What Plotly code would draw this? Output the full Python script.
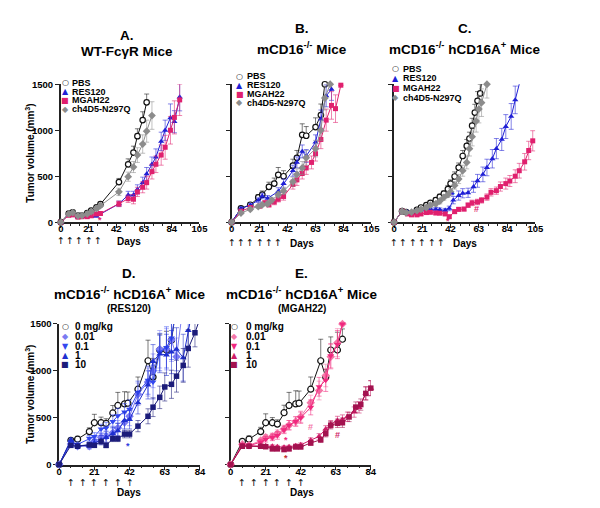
import plotly.graph_objects as go

W, H = 600, 508
FONT = "Liberation Sans, Arial, sans-serif"
SYMFONT = "DejaVu Sans, sans-serif"

# ---------------- Panel A : WT-FcgR mice ----------------
A_pbs_days = [0, 6, 9, 13, 16, 20, 23, 27, 30, 44, 51, 55, 58, 62, 65]
A_pbs_vals = [0, 93, 107, 71, 71, 100, 125, 161, 196, 436, 629, 757, 936, 1111, 1304]
A_pbs_err = [0, 10, 12, 10, 10, 15, 15, 20, 20, 40, 60, 70, 80, 90, 90]

A_res_days = [0, 6, 9, 13, 16, 20, 23, 27, 44, 51, 55, 58, 62, 65, 69, 72, 76, 79, 83, 86, 90]
A_res_vals = [0, 80, 95, 55, 60, 65, 60, 65, 200, 296, 296, 357, 430, 525, 629, 707, 879, 1000, 1136, 1093, 1361]
A_res_err = [0, 10, 10, 8, 8, 10, 8, 10, 30, 40, 40, 50, 60, 70, 80, 90, 100, 110, 150, 120, 150]

A_mg_days = [0, 6, 9, 13, 16, 20, 23, 27, 30, 44, 51, 55, 58, 62, 65, 69, 72, 76, 79, 83, 86, 90]
A_mg_vals = [0, 75, 80, 55, 60, 60, 70, 90, 95, 200, 255, 250, 330, 380, 430, 550, 630, 730, 815, 1000, 1140, 1330]
A_mg_err = [0, 10, 10, 8, 8, 10, 10, 15, 15, 30, 40, 50, 50, 60, 70, 80, 90, 110, 130, 150, 180, 170]

A_ch_days = [0, 6, 9, 13, 16, 20, 23, 27, 30, 44, 51, 55, 58, 62, 65, 69]
A_ch_vals = [0, 90, 105, 70, 72, 90, 115, 150, 180, 330, 495, 600, 730, 850, 990, 1160]
A_ch_err = [0, 10, 12, 10, 10, 12, 15, 20, 20, 40, 50, 60, 80, 100, 120, 150]

# ---------------- Panel B : mCD16-/- mice ----------------
B_pbs_days = [0, 7, 14, 20, 23, 28, 32, 35, 39, 46, 49, 53, 56, 63, 67, 70]
B_pbs_vals = [0, 150, 190, 270, 300, 385, 420, 515, 500, 615, 700, 950, 940, 1035, 1165, 1500]
B_pbs_err = [0, 15, 20, 30, 40, 50, 60, 80, 60, 70, 80, 120, 100, 100, 120, 0]

B_res_days = [0, 7, 14, 20, 23, 27, 35, 39, 46, 49, 53, 56, 63, 67, 71, 75]
B_res_vals = [0, 150, 185, 240, 285, 260, 335, 420, 560, 650, 770, 720, 870, 1120, 1375, 1445]
B_res_err = [0, 15, 20, 25, 30, 30, 40, 50, 60, 60, 70, 70, 80, 100, 120, 120]

B_mg_days = [0, 7, 14, 21, 25, 28, 32, 35, 39, 46, 49, 53, 56, 60, 63, 67, 71, 75, 78, 82]
B_mg_vals = [0, 120, 160, 175, 210, 190, 220, 250, 280, 410, 460, 530, 590, 650, 745, 900, 1110, 1270, 1235, 1490]
B_mg_err = [0, 15, 20, 20, 25, 25, 30, 30, 40, 50, 60, 60, 70, 70, 80, 100, 120, 150, 150, 0]

B_ch_days = [0, 7, 14, 20, 23, 27, 30, 35, 39, 46, 49, 53, 56, 63, 67, 70, 74]
B_ch_vals = [0, 100, 140, 170, 190, 200, 240, 300, 340, 440, 520, 590, 700, 800, 1000, 1350, 1500]
B_ch_err = [0, 10, 15, 20, 20, 25, 30, 35, 40, 50, 60, 70, 80, 90, 110, 130, 0]

# ---------------- Panel C : mCD16-/- hCD16A+ mice ----------------
C_pbs_days = [0, 6, 9, 13, 17, 20, 24, 27, 31, 34, 37, 40, 42, 45, 48, 51, 54, 56, 58, 60, 62, 64, 66]
C_pbs_vals = [0, 120, 110, 100, 135, 160, 185, 210, 240, 275, 310, 360, 420, 497, 594, 720, 830, 909, 1050, 1192, 1320, 1400, 1650]
C_pbs_err = [0, 15, 15, 15, 15, 20, 20, 25, 25, 30, 30, 40, 40, 50, 50, 60, 70, 70, 80, 90, 100, 100, 0]

C_res_days = [0, 6, 10, 13, 17, 20, 24, 27, 31, 34, 38, 41, 44, 48, 51, 55, 59, 62, 66, 69, 73, 76, 80, 83, 87, 90, 94]
C_res_vals = [0, 120, 110, 105, 125, 135, 140, 145, 140, 135, 130, 150, 240, 290, 315, 320, 385, 450, 520, 595, 690, 800, 900, 1040, 1150, 1330, 1560]
C_res_err = [0, 15, 15, 15, 15, 15, 15, 20, 20, 20, 20, 25, 40, 50, 50, 50, 60, 70, 80, 90, 100, 110, 120, 130, 140, 150, 0]

C_mg_days = [0, 6, 10, 13, 17, 20, 24, 27, 31, 34, 38, 41, 45, 48, 52, 55, 58, 62, 65, 69, 72, 76, 79, 83, 86, 90, 93, 97, 100, 103]
C_mg_vals = [0, 120, 90, 80, 80, 90, 105, 108, 100, 98, 90, 60, 115, 140, 143, 185, 210, 220, 238, 273, 325, 343, 388, 420, 448, 500, 560, 657, 780, 885]
C_mg_err = [0, 15, 15, 12, 12, 15, 15, 15, 15, 15, 15, 15, 20, 20, 20, 25, 30, 30, 30, 35, 40, 40, 50, 60, 60, 70, 80, 90, 100, 110]

C_ch_days = [0, 6, 9, 13, 17, 20, 24, 27, 31, 34, 37, 40, 42, 45, 48, 51, 54, 56, 58, 61, 63, 65, 69]
C_ch_vals = [0, 120, 105, 110, 125, 140, 160, 185, 200, 230, 270, 300, 330, 400, 470, 560, 650, 800, 930, 1100, 1230, 1300, 1500]
C_ch_err = [0, 15, 15, 15, 15, 20, 20, 20, 25, 30, 30, 30, 35, 40, 50, 60, 70, 80, 100, 120, 150, 150, 150]

# ---------------- Panel D : RES120 dose titration ----------------
D_0_days = [0, 7, 11, 18, 21, 25, 28, 32, 35, 39, 41, 47, 53, 56, 60, 64, 67, 70]
D_0_vals = [0, 258, 271, 352, 446, 446, 439, 550, 630, 647, 654, 804, 1107, 933, 1222, 1222, 1326, 1700]
D_0_err = [0, 20, 30, 40, 90, 60, 50, 80, 140, 130, 120, 130, 220, 200, 170, 200, 200, 0]

D_001_days = [0, 7, 11, 18, 21, 25, 28, 32, 35, 39, 42, 47, 53, 56, 60, 64, 67, 70, 74]
D_001_vals = [0, 220, 195, 195, 245, 290, 300, 340, 390, 450, 515, 750, 880, 1000, 1230, 1230, 1330, 1150, 1700]
D_001_err = [0, 20, 25, 30, 40, 50, 60, 70, 80, 90, 100, 120, 150, 180, 200, 220, 230, 200, 0]

D_01_days = [0, 7, 11, 18, 21, 25, 28, 32, 35, 39, 42, 47, 53, 56, 60, 64, 67, 70]
D_01_vals = [0, 235, 215, 280, 300, 380, 390, 460, 520, 560, 590, 770, 900, 880, 1200, 1250, 1350, 1700]
D_01_err = [0, 20, 25, 30, 40, 50, 60, 70, 80, 90, 100, 120, 150, 180, 200, 220, 230, 0]

D_1_days = [0, 7, 11, 18, 21, 25, 28, 32, 35, 39, 42, 47, 53, 56, 60, 64, 67, 70, 74, 77, 80]
D_1_vals = [0, 265, 200, 210, 230, 260, 290, 330, 360, 470, 480, 660, 850, 1100, 1180, 1170, 1200, 1230, 1140, 1430, 1700]
D_1_err = [0, 20, 25, 30, 40, 50, 60, 70, 80, 90, 100, 120, 150, 180, 200, 220, 230, 230, 250, 200, 0]

D_10_days = [0, 7, 11, 18, 21, 25, 28, 32, 35, 39, 42, 47, 53, 56, 60, 63, 67, 70, 74, 77, 81, 84]
D_10_vals = [0, 205, 195, 210, 205, 245, 205, 275, 275, 325, 325, 410, 515, 612, 717, 828, 856, 943, 1058, 1239, 1406, 1560]
D_10_err = [0, 15, 15, 20, 20, 25, 25, 30, 30, 40, 40, 60, 80, 100, 120, 150, 150, 170, 180, 200, 150, 0]

# ---------------- Panel E : MGAH22 dose titration ----------------
E_0_days = [0, 7, 11, 18, 21, 25, 28, 32, 35, 39, 41, 48, 54, 57, 60, 64, 67]
E_0_vals = [0, 247, 271, 352, 446, 446, 432, 553, 630, 647, 654, 804, 1107, 933, 1222, 1222, 1337]
E_0_err = [0, 20, 35, 45, 95, 55, 45, 80, 140, 140, 130, 130, 230, 80, 140, 190, 110]

E_001_days = [0, 7, 11, 18, 21, 25, 28, 32, 35, 39, 42, 48, 53, 57, 60, 64, 67]
E_001_vals = [0, 215, 205, 255, 290, 300, 330, 380, 420, 460, 510, 660, 790, 950, 1150, 1300, 1500]
E_001_err = [0, 15, 20, 25, 30, 35, 40, 40, 50, 50, 60, 80, 100, 120, 130, 150, 0]

E_01_days = [0, 7, 11, 18, 21, 25, 28, 32, 35, 39, 42, 48, 53, 57, 60, 64, 67]
E_01_vals = [0, 210, 200, 240, 270, 290, 310, 370, 420, 460, 500, 610, 830, 900, 1160, 1280, 1500]
E_01_err = [0, 15, 20, 25, 30, 35, 40, 40, 50, 50, 60, 80, 100, 120, 130, 150, 0]

E_1_days = [0, 7, 11, 18, 21, 25, 28, 32, 35, 39, 42, 48, 53, 57, 60, 64, 67, 70, 74, 77, 81, 84]
E_1_vals = [0, 205, 200, 200, 200, 195, 190, 185, 190, 200, 210, 260, 300, 380, 430, 470, 480, 510, 560, 610, 760, 815]
E_1_err = [0, 15, 15, 15, 15, 15, 15, 15, 15, 20, 20, 25, 30, 35, 40, 45, 50, 50, 55, 60, 70, 80]

E_10_days = [0, 7, 11, 18, 21, 25, 28, 32, 35, 39, 42, 48, 54, 57, 60, 64, 67, 71, 75, 78, 81, 84]
E_10_vals = [0, 195, 195, 195, 190, 167, 167, 160, 167, 188, 188, 230, 265, 330, 420, 440, 446, 508, 613, 640, 759, 815]
E_10_err = [0, 15, 15, 15, 15, 15, 15, 15, 15, 20, 20, 25, 30, 35, 40, 45, 50, 50, 55, 60, 70, 80]

# dosing days (arrows)
TOP_DOSES_A = [0, 7, 14, 21, 28]
TOP_DOSES_BC = [0, 7, 14, 21, 28, 35]
BOTTOM_DOSES = [7, 14, 21, 28, 35, 42]

# colours
BLACK = "#111111"
BLUE = "#1f1fd6"
PINK = "#e0206e"
GRAY = "#8c8c8c"
D_COLS = ["#111111", "#7b7bf2", "#3348f0", "#1f2fd0", "#1c1c7a"]
E_COLS = ["#111111", "#f477a8", "#f0287e", "#cf1d68", "#a3124f"]

# panel geometry (pixels)
PANELS = {
    "A": dict(x=[59, 200.5], y=[80, 221], xmax=105, xa="x", ya="y", ms=1.0),
    "B": dict(x=[233.3, 376], y=[80, 221], xmax=105, xa="x2", ya="y2", ms=1.0),
    "C": dict(x=[399, 543.3], y=[80, 221], xmax=105, xa="x3", ya="y3", ms=1.0),
    "D": dict(x=[57.3, 201], y=[325, 468.7], xmax=84, xa="x4", ya="y4", ms=1.1),
    "E": dict(x=[232.3, 375.3], y=[325, 468.7], xmax=84, xa="x5", ya="y5", ms=1.1),
}

YMAX = 1500


def px(x):
    return x / W


def py(y):
    return 1 - y / H


def rgba(hexc, a):
    h = hexc.lstrip("#")
    r, g, b = int(h[0:2], 16), int(h[2:4], 16), int(h[4:6], 16)
    return f"rgba({r},{g},{b},{a})"


fig = go.Figure()


def add_series(panel, days, vals, errs, color, symbol, size, upper_only=False, open_marker=False):
    p = PANELS[panel]
    size = size * p["ms"]
    if upper_only:
        err = dict(type="data", symmetric=False, array=errs, arrayminus=[0] * len(errs),
                   color=rgba(color, 0.55), thickness=1, width=2.5)
    else:
        err = dict(type="data", array=errs, color=rgba(color, 0.55), thickness=1, width=2.5)
    fig.add_trace(go.Scatter(x=days, y=vals, mode="lines", xaxis=p["xa"], yaxis=p["ya"],
                             line=dict(color=color, width=1), error_y=err,
                             showlegend=False, hoverinfo="skip", cliponaxis=True))
    mvals = [v if v <= YMAX else None for v in vals]
    if open_marker:
        mk = dict(symbol=symbol, size=size, color="white", line=dict(color=color, width=1.2))
    else:
        mk = dict(symbol=symbol, size=size, color=color, line=dict(width=0))
    fig.add_trace(go.Scatter(x=days, y=mvals, mode="markers", xaxis=p["xa"], yaxis=p["ya"],
                             marker=mk, showlegend=False, cliponaxis=False))


# A
add_series("A", A_pbs_days, A_pbs_vals, A_pbs_err, BLACK, "circle", 5.5, upper_only=True, open_marker=True)
add_series("A", A_res_days, A_res_vals, A_res_err, BLUE, "triangle-up", 5.5)
add_series("A", A_mg_days, A_mg_vals, A_mg_err, PINK, "square", 5)
add_series("A", A_ch_days, A_ch_vals, A_ch_err, GRAY, "diamond", 6)
# B
add_series("B", B_pbs_days, B_pbs_vals, B_pbs_err, BLACK, "circle", 5.5, upper_only=True, open_marker=True)
add_series("B", B_res_days, B_res_vals, B_res_err, BLUE, "triangle-up", 5.5)
add_series("B", B_mg_days, B_mg_vals, B_mg_err, PINK, "square", 5)
add_series("B", B_ch_days, B_ch_vals, B_ch_err, GRAY, "diamond", 6)
# C
add_series("C", C_pbs_days, C_pbs_vals, C_pbs_err, BLACK, "circle", 5.5, upper_only=True, open_marker=True)
add_series("C", C_res_days, C_res_vals, C_res_err, BLUE, "triangle-up", 5.5)
add_series("C", C_mg_days, C_mg_vals, C_mg_err, PINK, "square", 5)
add_series("C", C_ch_days, C_ch_vals, C_ch_err, GRAY, "diamond", 6)
# D
add_series("D", D_0_days, D_0_vals, D_0_err, D_COLS[0], "circle", 5.5, upper_only=True, open_marker=True)
add_series("D", D_001_days, D_001_vals, D_001_err, D_COLS[1], "diamond", 6)
add_series("D", D_01_days, D_01_vals, D_01_err, D_COLS[2], "triangle-down", 5.5)
add_series("D", D_1_days, D_1_vals, D_1_err, D_COLS[3], "triangle-up", 5.5)
add_series("D", D_10_days, D_10_vals, D_10_err, D_COLS[4], "square", 5)
# E
add_series("E", E_0_days, E_0_vals, E_0_err, E_COLS[0], "circle", 5.5, upper_only=True, open_marker=True)
add_series("E", E_001_days, E_001_vals, E_001_err, E_COLS[1], "diamond", 6)
add_series("E", E_01_days, E_01_vals, E_01_err, E_COLS[2], "triangle-down", 5.5)
add_series("E", E_1_days, E_1_vals, E_1_err, E_COLS[3], "triangle-up", 5.5)
add_series("E", E_10_days, E_10_vals, E_10_err, E_COLS[4], "square", 5)

# axes
layout_axes = {}
for i, (name, p) in enumerate(PANELS.items()):
    suffix = "" if i == 0 else str(i + 1)
    common = dict(showline=True, linecolor="#222222", linewidth=1.5, ticks="outside",
                  ticklen=4, tickwidth=1.2, tickcolor="#222222", showgrid=False,
                  zeroline=False, layer="below traces", fixedrange=True,
                  tickfont=dict(family=FONT, size=9.5, color="black", weight="bold"))
    layout_axes["xaxis" + suffix] = dict(
        common, domain=[px(p["x"][0]), px(p["x"][1])], range=[0, p["xmax"]],
        tick0=0, dtick=21, anchor="y" + suffix, ticklabelstandoff=-7,
        minor=dict(dtick=7, tick0=0, ticklen=2, tickwidth=1, tickcolor="#222222", ticks="outside"))
    layout_axes["yaxis" + suffix] = dict(
        common, domain=[py(p["y"][1]), py(p["y"][0])], range=[0, YMAX],
        tick0=0, dtick=500, anchor="x" + suffix,
        showticklabels=name in ("A", "D"))

ann = []


def text(x, y, s, size, color="black", xanchor="center", font=FONT, angle=0, xref="paper"):
    ann.append(dict(x=x if xref != "paper" else px(x), y=py(y), xref=xref, yref="paper",
                    text=s, showarrow=False, xanchor=xanchor, yanchor="middle",
                    textangle=angle, font=dict(family=font, size=size, color=color)))


# titles
text(127, 30, "<b>A.</b>", 13.5)
text(127, 46, "<b>WT-FcγR Mice</b>", 13.5)
text(305, 23, "<b>B.</b>", 13.5)
text(305, 43, "<b>mCD16<sup>-/-</sup> Mice</b>", 13.5)
text(471, 23, "<b>C.</b>", 13.5)
text(471, 43, "<b>mCD16<sup>-/-</sup> hCD16A<sup>+</sup> Mice</b>", 13.5)
text(129, 273, "<b>D.</b>", 13.5)
text(129, 293, "<b>mCD16<sup>-/-</sup> hCD16A<sup>+</sup> Mice</b>", 13.5)
text(129, 309, "<b>(RES120)</b>", 10)
text(305, 273, "<b>E.</b>", 13.5)
text(305, 293, "<b>mCD16<sup>-/-</sup> hCD16A<sup>+</sup> Mice</b>", 13.5)
text(305, 309, "<b>(MGAH22)</b>", 10)

# y titles
text(28, 150.5, "<b>Tumor volume (mm<sup>3</sup>)</b>", 10, angle=-90)
text(28, 397, "<b>Tumor volume (mm<sup>3</sup>)</b>", 10, angle=-90)

# x titles
text(129, 241, "<b>Days</b>", 10)
text(305, 243, "<b>Days</b>", 10)
text(471, 243, "<b>Days</b>", 10)
text(129, 497, "<b>Days</b>", 10)
text(305, 497, "<b>Days</b>", 10)

# dosing arrows
for d in TOP_DOSES_A:
    text(d, 239.5, "↑", 9.5, xref="x", font=SYMFONT)
for d in TOP_DOSES_BC:
    text(d, 242, "↑", 9.5, xref="x2", font=SYMFONT)
    text(d, 242, "↑", 9.5, xref="x3", font=SYMFONT)
for d in BOTTOM_DOSES:
    text(d, 487, "↑", 9.5, xref="x4", font=SYMFONT)
    text(d, 487, "↑", 9.5, xref="x5", font=SYMFONT)

# legends (symbol glyph + label)
TOP_LABELS = ["PBS", "RES120", "MGAH22", "ch4D5-N297Q"]
TOP_SYMS = ["○", "▲", "■", "◆"]
TOP_COLS = [BLACK, BLUE, PINK, GRAY]
BOT_LABELS = ["0 mg/kg", "0.01", "0.1", "1", "10"]
BOT_SYMS = ["○", "◆", "▼", "▲", "■"]


def legend(sx, tx, rows, syms, cols, labels, size, symsize):
    for r, s, c, l in zip(rows, syms, cols, labels):
        text(sx, r, s, symsize, color=c, font=SYMFONT)
        text(tx, r, "<b>" + l + "</b>", size, xanchor="left")


legend(63.3, 68, [78.5, 87.5, 96.5, 105.5], TOP_SYMS, TOP_COLS, TOP_LABELS, 9, 8)
legend(241.7, 246.7, [71.7, 81, 90, 99], TOP_SYMS, TOP_COLS, TOP_LABELS, 9, 8)
legend(400.7, 406, [64, 74, 84, 94], TOP_SYMS, TOP_COLS, TOP_LABELS, 9, 8)
legend(63.5, 71, [327.7, 338, 347.7, 357.3, 366.7], BOT_SYMS, D_COLS, BOT_LABELS, 10, 8)
legend(236, 246, [327.7, 338, 347.7, 357.3, 366.7], BOT_SYMS, E_COLS, BOT_LABELS, 10, 8)

# significance marks
SIG = [
    ("x", "y", 30, 20, "*", PINK),
    ("x3", "y3", 40, 15, "*", PINK),
    ("x3", "y3", 61, 140, "#", PINK),
    ("x3", "y3", 44, 300, "*", BLUE),
    ("x4", "y4", 41, 200, "*", "#3040e0"),
    ("x5", "y5", 33, 265, "*", E_COLS[2]),
    ("x5", "y5", 33, 70, "*", "#c0302f"),
    ("x5", "y5", 48, 400, "#", E_COLS[1]),
    ("x5", "y5", 64, 317, "#", E_COLS[3]),
]
for xr, yr, xv, yv, s, c in SIG:
    ann.append(dict(x=xv, y=yv, xref=xr, yref=yr, text="<b>" + s + "</b>", showarrow=False,
                    font=dict(family=FONT, size=9, color=c), xanchor="center", yanchor="middle"))

fig.update_layout(width=W, height=H, autosize=False, margin=dict(l=0, r=0, t=0, b=0),
                  paper_bgcolor="white", plot_bgcolor="white", annotations=ann,
                  showlegend=False, **layout_axes)

fig.write_html("out.html", config={"displayModeBar": False},
               post_script="document.body.style.margin='0px';document.body.style.padding='0px';")
